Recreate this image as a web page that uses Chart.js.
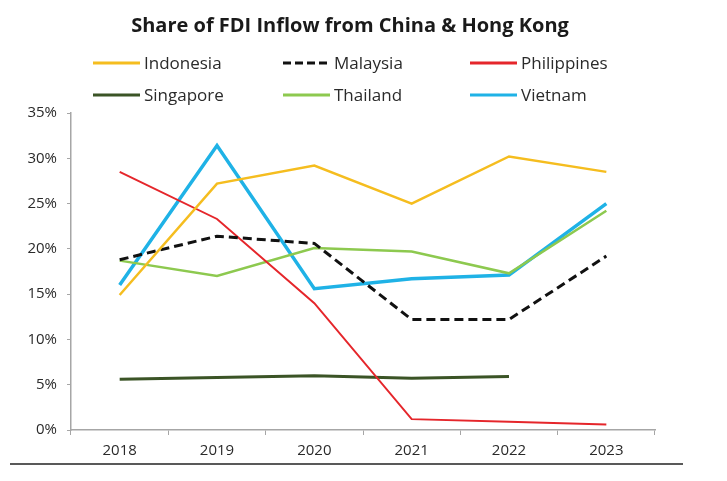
<!DOCTYPE html>
<html>
<head>
<meta charset="utf-8">
<script src="https://cdn.jsdelivr.net/npm/chart.js@4"></script>
<style>
  html, body { margin: 0; padding: 0; background: #fff; }
  #wrap { position: relative; width: 727px; height: 481px; }
</style>
</head>
<body>
<div id="wrap"><canvas id="fdiChart" width="727" height="481"></canvas></div>
<script>
// Share of FDI inflow from China & Hong Kong, % of total
const years = ['2018', '2019', '2020', '2021', '2022', '2023'];
const indonesia   = [14.9, 27.2, 29.2, 25.0, 30.2, 28.5];
const malaysia    = [18.8, 21.4, 20.6, 12.2, 12.2, 19.2];
const philippines = [28.5, 23.3, 14.0, 1.2, 0.9, 0.6];
const singapore   = [5.6, 5.8, 6.0, 5.7, 5.9, null];
const thailand    = [18.7, 17.0, 20.1, 19.7, 17.3, 24.2];
const vietnam     = [16.0, 31.4, 15.6, 16.7, 17.1, 25.0];
const yTicks = [0, 5, 10, 15, 20, 25, 30, 35];

const FONT = "'Open Sans', sans-serif";

function series(label, data, color, width, dash) {
    return {
        label: label,
        data: data,
        borderColor: color,
        backgroundColor: color,
        borderWidth: width,
        borderDash: dash || [],
        pointRadius: 0,
        tension: 0,
        spanGaps: false
    };
}

// legend grid laid out like the original: 3 columns, 2 rows
const legendSlots = [
    { x: 93,  y: 63 }, { x: 283, y: 63 }, { x: 470, y: 63 },
    { x: 93,  y: 95 }, { x: 283, y: 95 }, { x: 470, y: 95 }
];

const decorPlugin = {
    id: 'decor',
    afterDraw(chart) {
        const ctx = chart.ctx;
        ctx.save();
        // title
        ctx.fillStyle = '#1a1a1a';
        ctx.font = "bold 20px " + FONT;
        ctx.textAlign = 'center';
        ctx.textBaseline = 'middle';
        ctx.fillText('Share of FDI Inflow from China & Hong Kong', 350, 26);

        // legend
        ctx.font = "17px " + FONT;
        ctx.textAlign = 'left';
        chart.data.datasets.forEach((ds, i) => {
            const s = legendSlots[i];
            ctx.strokeStyle = ds.borderColor;
            ctx.lineWidth = 3;
            ctx.setLineDash(ds.borderDash.length ? [8, 4] : []);
            ctx.beginPath();
            ctx.moveTo(s.x, s.y);
            ctx.lineTo(s.x + 47, s.y);
            ctx.stroke();
            ctx.setLineDash([]);
            ctx.fillStyle = '#2a2a2a';
            ctx.fillText(ds.label, s.x + 51, s.y + 1);
        });

        // bottom rule
        ctx.strokeStyle = '#222';
        ctx.lineWidth = 1.5;
        ctx.beginPath();
        ctx.moveTo(10, 464);
        ctx.lineTo(683, 464);
        ctx.stroke();
        ctx.restore();
    }
};

new Chart(document.getElementById('fdiChart'), {
    type: 'line',
    data: {
        labels: years,
        datasets: [
            series('Indonesia', indonesia, '#F5BD1F', 2.5),
            series('Malaysia', malaysia, '#111111', 3, [9, 5]),
            series('Philippines', philippines, '#E5262B', 2),
            series('Singapore', singapore, '#3B5426', 3),
            series('Thailand', thailand, '#8DC94F', 2.5),
            series('Vietnam', vietnam, '#1FB2E6', 3.5)
        ]
    },
    options: {
        responsive: false,
        animation: false,
        layout: { padding: { top: 113, right: 72, bottom: 0, left: 0 } },
        plugins: {
            legend: { display: false },
            title: { display: false },
            tooltip: { enabled: false }
        },
        scales: {
            x: {
                offset: true,
                afterFit(scale) { scale.height = 51; },
                grid: {
                    display: true,
                    drawOnChartArea: false,
                    drawTicks: true,
                    tickLength: 5,
                    offset: true,
                    color: '#a6a6a6'
                },
                border: { color: '#a6a6a6', width: 1.5 },
                ticks: {
                    color: '#2a2a2a',
                    font: { family: FONT, size: 15 },
                    padding: 7
                }
            },
            y: {
                min: 0,
                max: 35,
                afterFit(scale) { scale.width = 71; },
                afterBuildTicks(scale) {
                    scale.ticks = yTicks.map(v => ({ value: v }));
                },
                grid: {
                    display: true,
                    drawOnChartArea: false,
                    drawTicks: true,
                    tickLength: 4,
                    color: '#a6a6a6'
                },
                border: { color: '#a6a6a6', width: 1.5 },
                ticks: {
                    color: '#2a2a2a',
                    font: { family: FONT, size: 15 },
                    padding: 10,
                    callback: v => v + '%'
                }
            }
        }
    },
    plugins: [decorPlugin]
});
</script>
</body>
</html>
